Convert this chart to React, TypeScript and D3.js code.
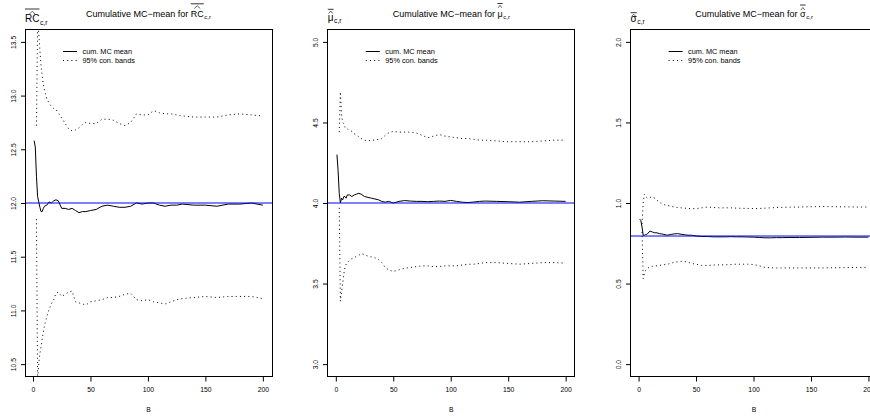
import React, { useEffect, useRef } from "react";
import * as d3 from "d3";

const steps = [1, 2, 3, 4, 5, 6, 7, 8, 9, 10, 12, 14, 16, 18, 20, 22, 25, 28, 31, 34, 37, 40, 43, 46,
  50, 55, 60, 65, 70, 75, 80, 85, 90, 95, 100, 105, 110, 115, 120, 125, 130, 140, 150, 160, 170, 180, 190, 200];

const rcMean = [12.58, 12.52, 12.25, 12.06, 12.01, 11.96, 11.92, 11.92, 11.95, 11.97,
  11.98, 12.01, 12.0, 12.02, 12.03, 12.02,
  11.95, 11.95, 11.94, 11.95, 11.93, 11.91, 11.92, 11.92,
  11.93, 11.94, 11.97, 11.98, 11.97, 11.96, 11.96, 11.97, 12.0, 11.99, 12.0, 12.0, 11.98, 11.97, 11.98, 11.98, 11.99,
  11.98, 11.98, 11.97, 11.99, 11.99, 12.0, 11.98];
const rcUpper = [null, null, 12.72, 13.65, 13.59, 13.42, 13.28, 13.18, 13.1, 13.05,
  12.97, 12.93, 12.9, 12.88, 12.87, 12.84,
  12.79, 12.74, 12.69, 12.67, 12.68, 12.7, 12.73, 12.75,
  12.74, 12.74, 12.78, 12.78, 12.77, 12.74, 12.72, 12.75, 12.83, 12.82, 12.82, 12.86, 12.84, 12.83, 12.83, 12.82, 12.81,
  12.8, 12.8, 12.8, 12.82, 12.83, 12.82, 12.81];
const rcLower = [null, null, 11.85, 10.35, 10.5, 10.6, 10.66, 10.73, 10.8, 10.86,
  10.94, 11.01, 11.06, 11.1, 11.16, 11.17,
  11.13, 11.15, 11.17, 11.18, 11.08, 11.07, 11.06, 11.05,
  11.08, 11.09, 11.1, 11.12, 11.12, 11.13, 11.15, 11.16, 11.1, 11.09, 11.1, 11.08, 11.07, 11.06, 11.08, 11.1, 11.11,
  11.12, 11.13, 11.12, 11.13, 11.13, 11.13, 11.11];

const muMean = [4.3, 4.2, 4.06, 4.0, 4.03, 4.02, 4.04, 4.04, 4.03, 4.05,
  4.05, 4.04, 4.05, 4.055, 4.06, 4.055,
  4.04, 4.035, 4.03, 4.025, 4.02, 4.01, 4.005, 4.01,
  4.0, 4.01, 4.015, 4.012, 4.01, 4.01, 4.008, 4.01, 4.012, 4.01, 4.016, 4.01, 4.005, 4.003, 4.006, 4.01, 4.012,
  4.01, 4.008, 4.005, 4.01, 4.014, 4.012, 4.01];
const muUpper = [null, null, 4.44, 4.69, 4.55, 4.5, 4.49, 4.47, 4.46, 4.46,
  4.45, 4.445, 4.43, 4.425, 4.41, 4.4,
  4.39, 4.385, 4.39, 4.39, 4.395, 4.4, 4.42, 4.435,
  4.445, 4.44, 4.44, 4.44, 4.435, 4.42, 4.405, 4.415, 4.425, 4.415, 4.41, 4.405, 4.4, 4.4, 4.395, 4.39, 4.39,
  4.385, 4.38, 4.38, 4.38, 4.385, 4.39, 4.39];
const muLower = [null, null, 3.97, 3.39, 3.45, 3.5, 3.56, 3.6, 3.62, 3.63,
  3.645, 3.655, 3.66, 3.67, 3.675, 3.685,
  3.68, 3.67, 3.665, 3.66, 3.65, 3.63, 3.6, 3.585,
  3.575, 3.585, 3.595, 3.6, 3.605, 3.61, 3.61, 3.605, 3.606, 3.61, 3.61, 3.61, 3.615, 3.62, 3.62, 3.625, 3.63,
  3.63, 3.625, 3.62, 3.625, 3.63, 3.63, 3.627];

const sigmaMean = [0.9, 0.89, 0.85, 0.8, 0.8, 0.805, 0.805, 0.81, 0.82, 0.825,
  0.82, 0.815, 0.815, 0.81, 0.808, 0.805,
  0.8, 0.805, 0.808, 0.81, 0.806, 0.803, 0.8, 0.8,
  0.795, 0.792, 0.792, 0.79, 0.79, 0.79, 0.791, 0.79, 0.79, 0.789, 0.788, 0.786, 0.784, 0.784, 0.785, 0.785, 0.786,
  0.786, 0.787, 0.788, 0.788, 0.789, 0.788, 0.788];
const sigmaUpper = [null, null, 0.87, 1.0, 1.055, 1.045, 1.035, 1.028, 1.03, 1.035,
  1.037, 1.03, 1.017, 1.006, 0.996, 0.99,
  0.985, 0.98, 0.975, 0.972, 0.97, 0.968, 0.966, 0.965,
  0.965, 0.97, 0.975, 0.972, 0.97, 0.97, 0.97, 0.968, 0.967, 0.966, 0.966, 0.966, 0.968, 0.97, 0.972, 0.973, 0.974,
  0.975, 0.977, 0.978, 0.977, 0.976, 0.975, 0.975];
const sigmaLower = [null, null, 0.82, 0.53, 0.56, 0.58, 0.59, 0.595, 0.6, 0.605,
  0.607, 0.61, 0.61, 0.612, 0.615, 0.617,
  0.62, 0.625, 0.632, 0.635, 0.638, 0.637, 0.632, 0.625,
  0.62, 0.612, 0.612, 0.615, 0.616, 0.616, 0.618, 0.62, 0.62, 0.62, 0.618, 0.61, 0.6, 0.598, 0.597, 0.597, 0.597,
  0.597, 0.597, 0.597, 0.598, 0.599, 0.6, 0.6];

const trueValues = [12, 4, 0.795];
const symbols = ["RC", "\u03bc", "\u03c3"];
const xTicks = [0, 50, 100, 150, 200];
const rcTicks = [10.5, 11, 11.5, 12, 12.5, 13, 13.5];
const muTicks = [3, 3.5, 4, 4.5, 5];
const sigmaTicks = [0, 0.5, 1, 1.5, 2];
const legendLabels = ["cum. MC mean", "95% con. bands"];

const FONT = "'Liberation Sans', Arial, Helvetica, sans-serif";

// decoration offsets (hat peak, hat feet, overline) relative to baseline, per symbol
const ylabDeco = [
  { base: 22.3, peak: -11, feet: -8, bar: -13.3 },
  { base: 20.5, peak: -9.5, feet: -7, bar: -11.2 },
  { base: 21.7, peak: -7.5, feet: -5.3, bar: -9 },
];
const titleDeco = [
  { peak: -11.5, feet: -8.8, bar: -13.5 },
  { peak: -12, feet: -9.5, bar: -13.8 },
  { peak: -9.8, feet: -7.2, bar: -12.3 },
];

const App = () => {
  const svgRef = useRef<SVGSVGElement>(null);

  useEffect(() => {
    const svg = d3.select(svgRef.current);
    svg.selectAll("*").remove();

    const panels = [
      { ticks: rcTicks, lim: [10.5, 13.5], mean: rcMean, upper: rcUpper, lower: rcLower },
      { ticks: muTicks, lim: [3, 5], mean: muMean, upper: muUpper, lower: muLower },
      { ticks: sigmaTicks, lim: [0, 2], mean: sigmaMean, upper: sigmaUpper, lower: sigmaLower },
    ];

    const top = 29, bottom = 377, plotW = 247, panelW = 302.8;
    const crisp = (v: number) => Math.round(v) + 0.5;

    panels.forEach((p, i) => {
      const left = 25 + i * panelW;
      const xPad = (200 - 1) * 0.04;
      const x = d3.scaleLinear().domain([1 - xPad, 200 + xPad]).range([left, left + plotW]);
      const yPad = (p.lim[1] - p.lim[0]) * 0.04;
      const y = d3.scaleLinear().domain([p.lim[0] - yPad, p.lim[1] + yPad]).range([bottom, top]);

      const g = svg.append("g");
      const clipId = `plot-clip-${i}`;
      g.append("clipPath").attr("id", clipId)
        .append("rect").attr("x", left).attr("y", top).attr("width", plotW).attr("height", bottom - top);

      const plot = g.append("g").attr("clip-path", `url(#${clipId})`);

      const line = d3.line<number | null>()
        .defined(v => v != null)
        .x((_, j) => x(steps[j]))
        .y(v => y(v as number));

      plot.append("path").attr("d", line(p.mean))
        .attr("fill", "none").attr("stroke", "#000").attr("stroke-width", 1);
      [p.upper, p.lower].forEach(band => {
        plot.append("path").attr("d", line(band))
          .attr("fill", "none").attr("stroke", "#000").attr("stroke-width", 1)
          .attr("stroke-dasharray", "1,3.2");
      });

      // true value, drawn on top
      plot.append("line")
        .attr("x1", left).attr("x2", left + plotW)
        .attr("y1", y(trueValues[i])).attr("y2", y(trueValues[i]))
        .attr("stroke", "#0000ff").attr("stroke-width", 1);

      // box
      const bx = crisp(left - 0.5);
      g.append("rect").attr("x", bx).attr("y", crisp(top - 0.5))
        .attr("width", Math.round(plotW)).attr("height", bottom - top - 1)
        .attr("fill", "none").attr("stroke", "#000").attr("stroke-width", 1);

      // axes
      const xAxis = g.append("g").attr("transform", `translate(0,${bottom - 0.5})`)
        .call(d3.axisBottom(x).tickValues(xTicks).tickSize(5).tickSizeOuter(0).tickPadding(6));
      xAxis.select(".domain").remove();
      xAxis.selectAll("text").attr("font-family", FONT).attr("font-size", 6.8).attr("fill", "#000");

      const yAxis = g.append("g").attr("transform", `translate(${bx},0)`)
        .call(d3.axisLeft(y).tickValues(p.ticks).tickSize(4.5).tickSizeOuter(0).tickFormat(d3.format(".1f")));
      yAxis.select(".domain").remove();
      yAxis.selectAll("text")
        .attr("font-family", FONT).attr("font-size", 6.8).attr("fill", "#000")
        .attr("x", null).attr("dy", null)
        .attr("text-anchor", "middle")
        .attr("transform", "translate(-9.3,0) rotate(-90)");

      g.append("text").attr("x", left + plotW / 2).attr("y", 412)
        .attr("text-anchor", "middle").attr("font-family", FONT).attr("font-size", 6.8)
        .text("B");

      // legend
      const lx = left + 38;
      g.append("line").attr("x1", lx).attr("x2", lx + 14).attr("y1", 51.5).attr("y2", 51.5)
        .attr("stroke", "#000").attr("stroke-width", 1);
      g.append("line").attr("x1", lx).attr("x2", lx + 14).attr("y1", 60.5).attr("y2", 60.5)
        .attr("stroke", "#000").attr("stroke-width", 1).attr("stroke-dasharray", "1,3.2");
      legendLabels.forEach((lab, k) => {
        g.append("text").attr("x", lx + 19.5).attr("y", 54.4 + k * 9)
          .attr("font-family", FONT).attr("font-size", 7.3).text(lab);
      });

      // decorated symbol helper
      const drawSymbol = (parent: any, x0: number, base: number, size: number,
        deco: { peak: number; feet: number; bar: number }) => {
        const s = parent.append("text").attr("x", x0).attr("y", base)
          .attr("font-family", FONT).attr("font-size", size).text(symbols[i]);
        const w = (s.node() as SVGTextElement).getComputedTextLength();
        const sub = parent.append("text").attr("x", x0 + w + 0.5).attr("y", base + size * 0.22)
          .attr("font-family", FONT).attr("font-size", size * 0.68).text("c,r");
        const sw = (sub.node() as SVGTextElement).getComputedTextLength();
        const cx = x0 + w / 2;
        const hw = Math.min(3, w * 0.35);
        parent.append("path")
          .attr("d", `M${cx - hw},${base + deco.feet}L${cx},${base + deco.peak}L${cx + hw},${base + deco.feet}`)
          .attr("fill", "none").attr("stroke", "#000").attr("stroke-width", 0.6);
        parent.append("line").attr("x1", x0).attr("x2", x0 + w)
          .attr("y1", base + deco.bar).attr("y2", base + deco.bar)
          .attr("stroke", "#000").attr("stroke-width", 0.8);
        return w + 0.5 + sw;
      };

      // y label at top left
      const yd = ylabDeco[i];
      drawSymbol(g, left, yd.base, 10, { peak: yd.peak, feet: yd.feet, bar: yd.bar });

      // title
      const tg = g.append("g");
      const tBase = 17.3;
      const tMain = tg.append("text").attr("x", 0).attr("y", tBase)
        .attr("font-family", FONT).attr("font-size", 9).text("Cumulative MC\u2212mean for");
      const mw = (tMain.node() as SVGTextElement).getComputedTextLength();
      const symW = drawSymbol(tg, mw + 2.5, tBase, 9, titleDeco[i]);
      const total = mw + 2.5 + symW;
      tg.attr("transform", `translate(${left + plotW / 2 - total / 2},0)`);
    });
  }, []);

  return (
    <svg ref={svgRef} width={870} height={416}
      style={{ position: "absolute", left: 0, top: 0, background: "#fff" }} />
  );
};

export default App;
